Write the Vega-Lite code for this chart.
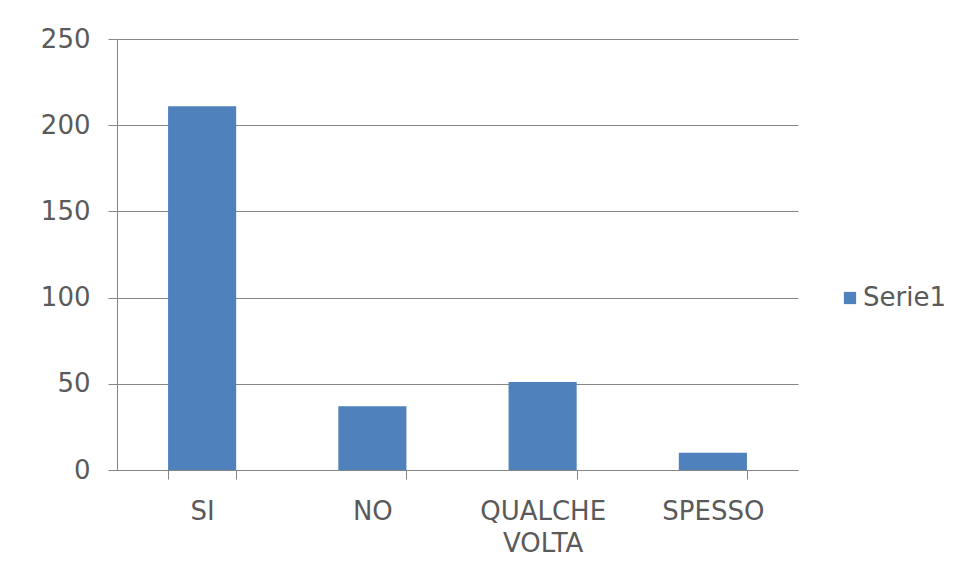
{
  "$schema": "https://vega.github.io/schema/vega-lite/v6.json",
  "width": 681,
  "height": 431,
  "autosize": {"type": "none"},
  "padding": {"left": 117, "top": 39, "right": 163, "bottom": 109},
  "background": "white",
  "data": {
    "values": [
      {"categoria": "SI", "valore": 211, "serie": "Serie1"},
      {"categoria": "NO", "valore": 37, "serie": "Serie1"},
      {"categoria": "QUALCHE VOLTA", "valore": 51, "serie": "Serie1"},
      {"categoria": "SPESSO", "valore": 10, "serie": "Serie1"}
    ]
  },
  "mark": {"type": "bar"},
  "encoding": {
    "x": {
      "field": "categoria",
      "type": "nominal",
      "sort": null,
      "title": null,
      "scale": {"paddingInner": 0.6, "paddingOuter": 0.3},
      "axis": {
        "labelAngle": 0,
        "labelExpr": "datum.value == 'QUALCHE VOLTA' ? ['QUALCHE', 'VOLTA'] : datum.value",
        "labelLineHeight": 32,
        "labelFont": "DejaVu Sans",
        "labelFontSize": 26,
        "labelColor": "#5a5a5a",
        "labelPadding": 19,
        "tickBand": "extent",
        "tickSize": 9,
        "tickColor": "#868686",
        "domainColor": "#868686",
        "grid": false
      }
    },
    "y": {
      "field": "valore",
      "type": "quantitative",
      "title": null,
      "scale": {"domain": [0, 250], "nice": false},
      "axis": {
        "values": [0, 50, 100, 150, 200, 250],
        "labelFont": "DejaVu Sans",
        "labelFontSize": 26,
        "labelColor": "#5a5a5a",
        "labelPadding": 18,
        "tickSize": 9,
        "tickColor": "#868686",
        "domainColor": "#868686",
        "grid": true,
        "gridColor": "#868686"
      }
    },
    "color": {
      "field": "serie",
      "type": "nominal",
      "scale": {"range": ["#4F81BD"]},
      "legend": {
        "title": null,
        "orient": "none",
        "legendX": 720,
        "legendY": 246,
        "padding": 0,
        "symbolType": "square",
        "symbolSize": 150,
        "symbolStrokeWidth": 0,
        "labelFont": "DejaVu Sans",
        "labelFontSize": 26,
        "labelColor": "#5a5a5a",
        "labelOffset": 0
      }
    }
  },
  "config": {
    "view": {"stroke": null},
    "axis": {"domainWidth": 1, "tickWidth": 1, "gridWidth": 1}
  }
}
